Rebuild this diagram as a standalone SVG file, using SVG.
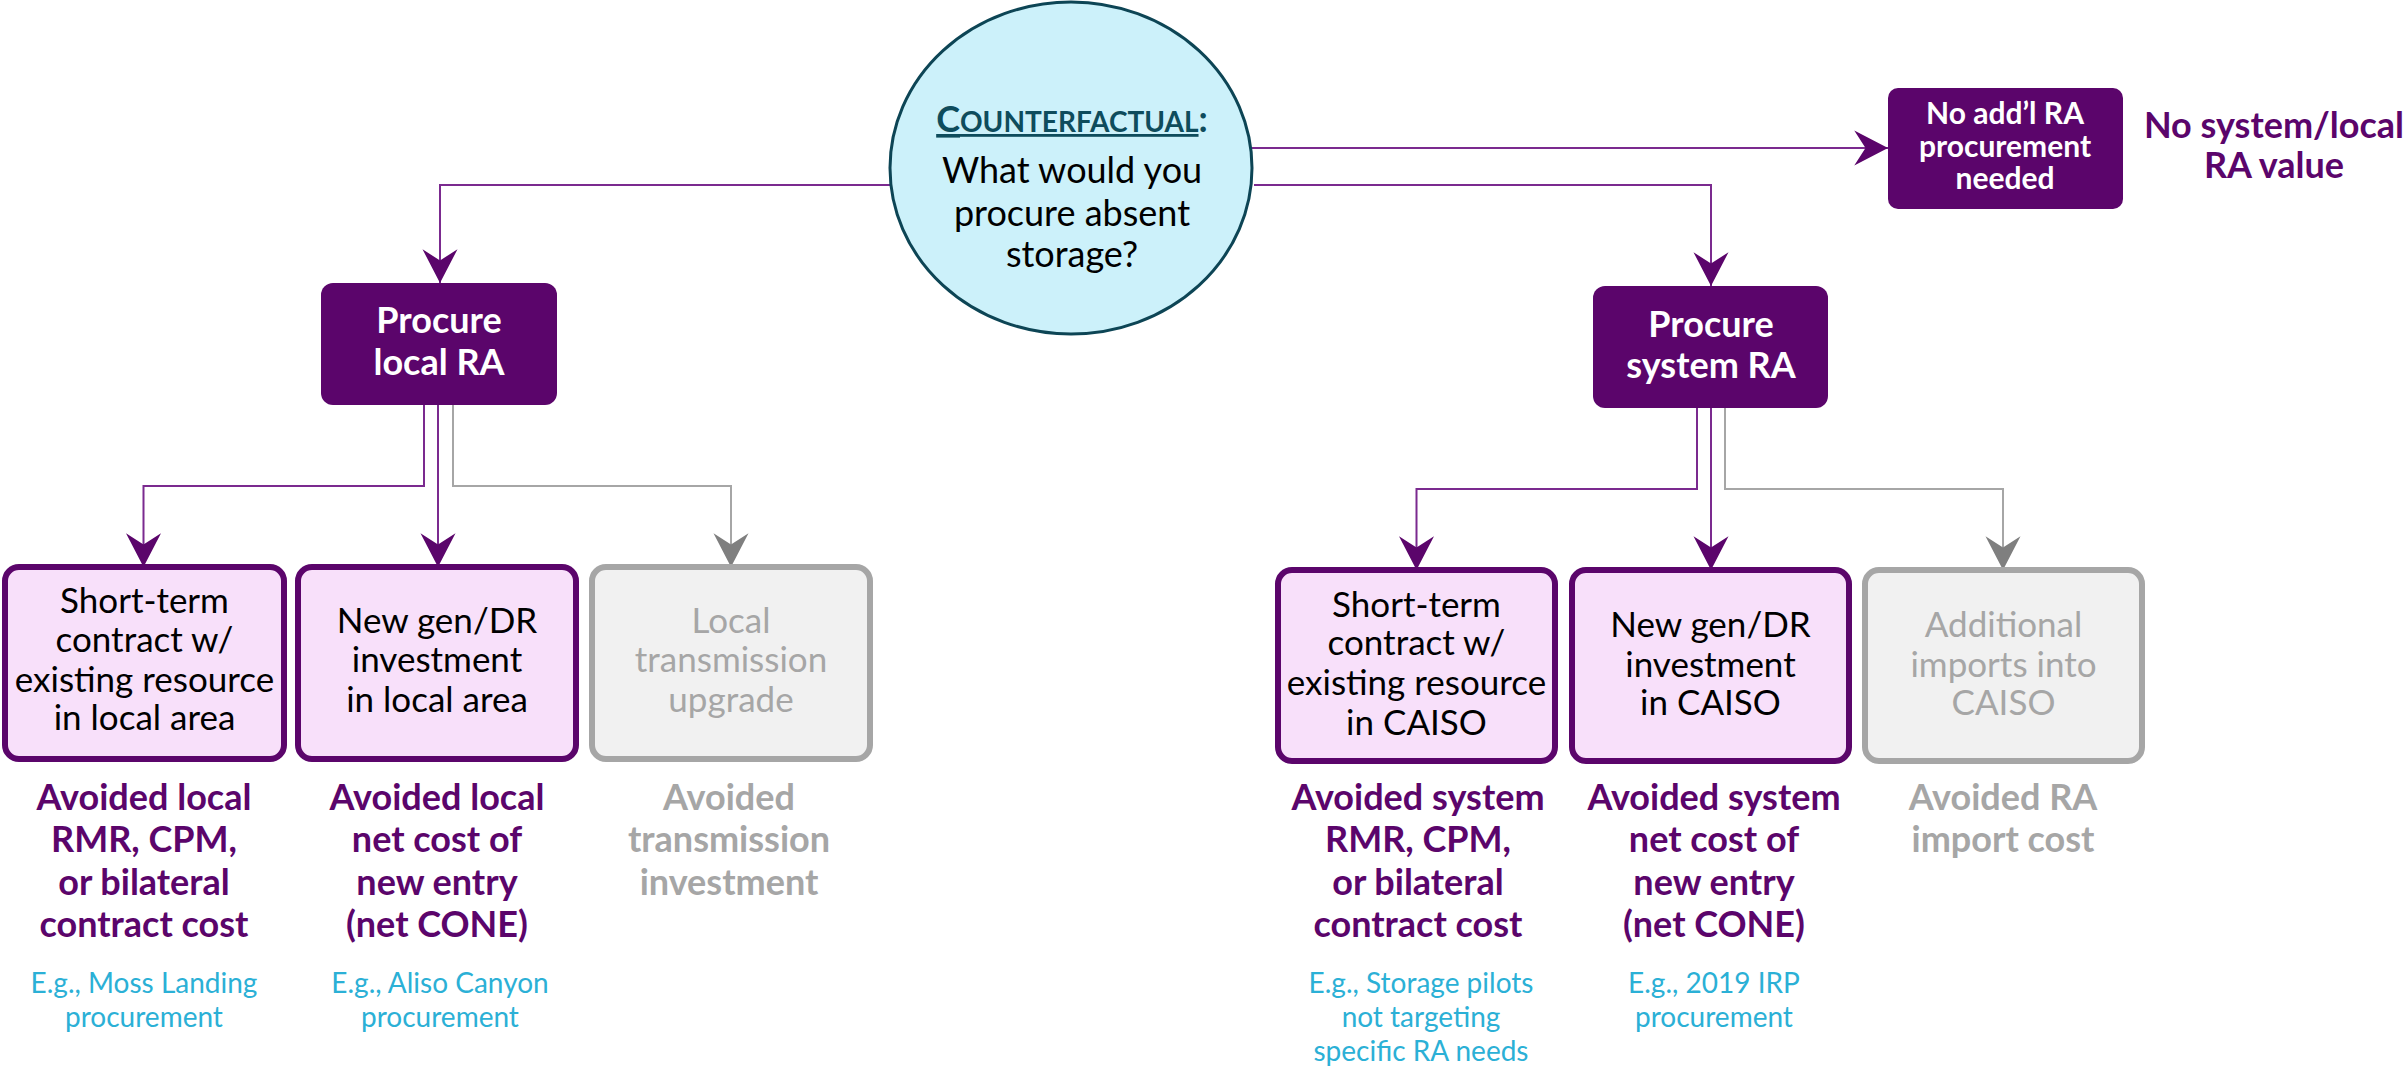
<svg xmlns="http://www.w3.org/2000/svg" width="2403" height="1073" viewBox="0 0 2403 1073">
<defs>
<marker id="ap" markerUnits="userSpaceOnUse" markerWidth="40" markerHeight="40" viewBox="-30 -16 32 32" refX="0" refY="0" orient="auto"><path d="M0,0 L-27,-14 L-18,0 L-27,14 Z" fill="#5b056b"/></marker>
<marker id="ag" markerUnits="userSpaceOnUse" markerWidth="40" markerHeight="40" viewBox="-30 -16 32 32" refX="0" refY="0" orient="auto"><path d="M0,0 L-27,-14 L-18,0 L-27,14 Z" fill="#7f7f7f"/></marker>
</defs>
<style>
text{font-family:Lato,"Liberation Sans",sans-serif;text-anchor:middle}
.dark rect{fill:#5b056b}
.dark text{fill:#fff;font-weight:bold}
.opt rect{fill:#f8e0fa;stroke:#5b056b;stroke-width:6}
.opt text{fill:#000;font-size:35px}
.gray rect{fill:#f1f1f1;stroke:#a6a6a6;stroke-width:6}
.gray text{fill:#a6a6a6;font-size:35px}
.res{font-weight:bold;font-size:36px;fill:#5b056b}
.resg{font-weight:bold;font-size:36px;fill:#a6a6a6}
.eg{font-size:28px;fill:#2bb0d6}
.cp{fill:none;stroke:#7b2a8f;stroke-width:2;marker-end:url(#ap)}
.cg{fill:none;stroke:#a6a6a6;stroke-width:2;marker-end:url(#ag)}
</style>
<g id="connectors">
<path class="cp" d="M895,185 H440 V283"/>
<path class="cp" d="M1248,148 H1888"/>
<path class="cp" d="M1254,185 H1711 V286"/>
<path class="cp" d="M424,405 V486 H143.5 V567"/>
<path class="cp" d="M438,405 V567"/>
<path class="cg" d="M453,405 V486 H731 V567"/>
<path class="cp" d="M1697,408 V489 H1416.5 V570"/>
<path class="cp" d="M1711,408 V570"/>
<path class="cg" d="M1725,408 V489 H2003 V570"/>
</g>
<g id="counterfactual">
<ellipse cx="1071" cy="168" rx="181" ry="166" fill="#ccf1fa" stroke="#0d4555" stroke-width="3"/>
<text x="1072" y="132" font-weight="bold" fill="#0e4c5c" font-size="36"><tspan text-decoration="underline">C<tspan font-size="28">OUNTERFACTUAL</tspan></tspan>:</text>
<text x="1072" y="183" font-size="36">What would you</text>
<text x="1072" y="226" font-size="36">procure absent</text>
<text x="1072" y="267" font-size="36">storage?</text>
</g>
<g id="no-addl" class="dark">
<rect x="1888" y="88" width="235" height="121" rx="10"/>
<text x="2005" y="124" font-size="30">No add’l RA</text>
<text x="2005" y="157" font-size="30">procurement</text>
<text x="2005" y="189" font-size="30">needed</text>
</g>
<g id="no-value">
<text class="res" x="2274" y="138">No system/local</text>
<text class="res" x="2274" y="178">RA value</text>
</g>
<g id="procure-local" class="dark">
<rect x="321" y="283" width="236" height="122" rx="12"/>
<text x="439" y="333" font-size="36">Procure</text>
<text x="439" y="375" font-size="36">local RA</text>
</g>
<g id="procure-system" class="dark">
<rect x="1593" y="286" width="235" height="122" rx="12"/>
<text x="1711" y="337" font-size="36">Procure</text>
<text x="1711" y="378" font-size="36">system RA</text>
</g>
<g id="local-short" class="opt">
<rect x="5" y="567" width="279" height="192" rx="14"/>
<text x="144.5" y="613">Short-term</text>
<text x="144.5" y="652">contract w/</text>
<text x="144.5" y="692">existing resource</text>
<text x="144.5" y="730">in local area</text>
</g>
<g id="local-new" class="opt">
<rect x="298" y="567" width="278" height="192" rx="14"/>
<text x="437" y="633">New gen/DR</text>
<text x="437" y="672">investment</text>
<text x="437" y="712">in local area</text>
</g>
<g id="local-trans" class="gray">
<rect x="592" y="567" width="278" height="192" rx="14"/>
<text x="731" y="633">Local</text>
<text x="731" y="672">transmission</text>
<text x="731" y="712">upgrade</text>
</g>
<g id="sys-short" class="opt">
<rect x="1278" y="570" width="277" height="191" rx="14"/>
<text x="1416.5" y="617">Short-term</text>
<text x="1416.5" y="655">contract w/</text>
<text x="1416.5" y="695">existing resource</text>
<text x="1416.5" y="735">in CAISO</text>
</g>
<g id="sys-new" class="opt">
<rect x="1572" y="570" width="277" height="191" rx="14"/>
<text x="1710.5" y="637">New gen/DR</text>
<text x="1710.5" y="677">investment</text>
<text x="1710.5" y="715">in CAISO</text>
</g>
<g id="sys-imports" class="gray">
<rect x="1865" y="570" width="277" height="191" rx="14"/>
<text x="2003.5" y="637">Additional</text>
<text x="2003.5" y="677">imports into</text>
<text x="2003.5" y="715">CAISO</text>
</g>
<g id="result-local-short">
<text class="res" x="144" y="810">Avoided local</text>
<text class="res" x="144" y="852">RMR, CPM,</text>
<text class="res" x="144" y="895">or bilateral</text>
<text class="res" x="144" y="937">contract cost</text>
<text class="eg" x="144" y="993">E.g., Moss Landing</text>
<text class="eg" x="144" y="1027">procurement</text>
</g>
<g id="result-local-new">
<text class="res" x="437" y="810">Avoided local</text>
<text class="res" x="437" y="852">net cost of</text>
<text class="res" x="437" y="895">new entry</text>
<text class="res" x="437" y="937">(net CONE)</text>
<text class="eg" x="440" y="993">E.g., Aliso Canyon</text>
<text class="eg" x="440" y="1027">procurement</text>
</g>
<g id="result-local-trans">
<text class="resg" x="729" y="810">Avoided</text>
<text class="resg" x="729" y="852">transmission</text>
<text class="resg" x="729" y="895">investment</text>
</g>
<g id="result-sys-short">
<text class="res" x="1418" y="810">Avoided system</text>
<text class="res" x="1418" y="852">RMR, CPM,</text>
<text class="res" x="1418" y="895">or bilateral</text>
<text class="res" x="1418" y="937">contract cost</text>
<text class="eg" x="1421" y="993">E.g., Storage pilots</text>
<text class="eg" x="1421" y="1027">not targeting</text>
<text class="eg" x="1421" y="1061">specific RA needs</text>
</g>
<g id="result-sys-new">
<text class="res" x="1714" y="810">Avoided system</text>
<text class="res" x="1714" y="852">net cost of</text>
<text class="res" x="1714" y="895">new entry</text>
<text class="res" x="1714" y="937">(net CONE)</text>
<text class="eg" x="1714" y="993">E.g., 2019 IRP</text>
<text class="eg" x="1714" y="1027">procurement</text>
</g>
<g id="result-sys-imports">
<text class="resg" x="2003" y="810">Avoided RA</text>
<text class="resg" x="2003" y="852">import cost</text>
</g>
</svg>
